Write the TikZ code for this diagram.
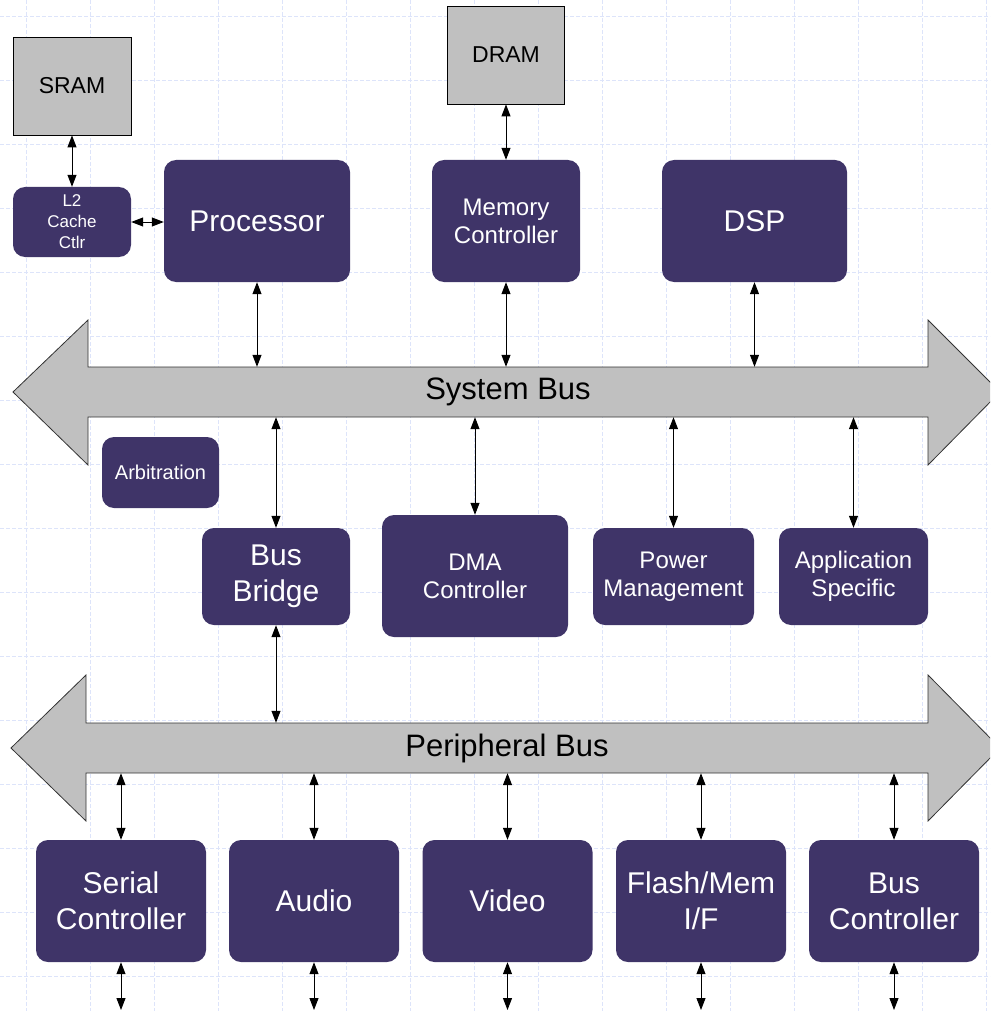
\documentclass[tikz,border=0pt]{standalone}
\usepackage{fontspec}
\setmainfont{Liberation Sans}
\usetikzlibrary{arrows.meta,positioning,calc}
\definecolor{socpurple}{HTML}{3F3468}
\definecolor{busgray}{HTML}{C0C0C0}
\definecolor{gridblue}{HTML}{DDE4FA}
\tikzset{
  blockbox/.style={fill=socpurple, rounded corners=12pt, text=white,
                   align=center, inner sep=0pt},
  membox/.style={draw=black, line width=0.8pt, fill=busgray, inner sep=0pt,
                 text=black, font=\fontsize{23}{27}\selectfont},
  busshape/.style={draw=black!80, line width=0.8pt, fill=busgray},
  buslabel/.style={inner sep=0pt, text=black, font=\fontsize{31}{36}\selectfont},
  bigtext/.style={font=\fontsize{30}{36}\selectfont},
  midtext/.style={font=\fontsize{24}{28}\selectfont},
  link/.style={{Triangle[length=12pt,width=9pt]}-{Triangle[length=12pt,width=9pt]},
               line width=1pt},
  gridline/.style={gridblue, line width=0.9pt, dash pattern=on 4pt off 2pt}}
\begin{document}
\begin{tikzpicture}[x=1pt, y=-1pt]
  \useasboundingbox (0,0) rectangle (990,1011);
  \clip (0,0) rectangle (990,1011);
  \foreach \gx in {26,90,...,986} \draw[gridline] (\gx,0) -- (\gx,1011);
  \foreach \gy in {16,80,...,976} \draw[gridline] (0,\gy) -- (990,\gy);

  \draw[busshape] (13,392) -- (88,320) -- (88,367) -- (928,367) -- (928,320)
    -- (1000,392) -- (928,465) -- (928,417) -- (88,417) -- (88,465) -- cycle;
  \draw[busshape] (11,748) -- (86,675) -- (86,723) -- (928,723) -- (928,675)
    -- (1000,748) -- (928,821) -- (928,773) -- (86,773) -- (86,821) -- cycle;
  \node[buslabel, minimum width=840, minimum height=50] (sysbus) at (508,392) {System Bus};
  \node[buslabel, minimum width=842, minimum height=50] (perbus) at (507,748) {Peripheral Bus};

  \node[membox, minimum width=118, minimum height=98] (sram) at (72,86) {SRAM};
  \node[membox, minimum width=117, minimum height=98] (dram) at (506,55) {DRAM};
  \node[blockbox, font=\fontsize{17}{21}\selectfont, minimum width=118, minimum height=70]
    (ltwo) at (72,222) {L2\\Cache\\Ctlr};
  \node[blockbox, bigtext, minimum width=186, minimum height=122] (proc) at (257,221) {Processor};
  \node[blockbox, midtext, minimum width=148, minimum height=122] (memctl) at (506,221)
    {Memory\\Controller};
  \node[blockbox, bigtext, minimum width=185, minimum height=122] (dsp) at (754.5,221) {DSP};

  \node[blockbox, font=\fontsize{20}{24}\selectfont, minimum width=117, minimum height=71]
    (arb) at (160.5,472.5) {Arbitration};
  \node[blockbox, bigtext, minimum width=148, minimum height=97] (bridge) at (276,576.5)
    {Bus\\Bridge};
  \node[blockbox, midtext, minimum width=186, minimum height=122] (dma) at (475,576)
    {DMA\\Controller};
  \node[blockbox, midtext, minimum width=161, minimum height=97] (power) at (673.5,576.5)
    {Power\\Management};
  \node[blockbox, midtext, minimum width=149, minimum height=97] (app) at (853.5,576.5)
    {Application\\Specific};

  \node[blockbox, bigtext, minimum width=170, minimum height=122] (serial) at (121,901)
    {Serial\\Controller};
  \node[blockbox, bigtext, minimum width=170, minimum height=122] (audio) at (314,901) {Audio};
  \node[blockbox, bigtext, minimum width=170, minimum height=122] (video) at (507.5,901) {Video};
  \node[blockbox, bigtext, minimum width=170, minimum height=122] (flash) at (701,901)
    {Flash/Mem\\I/F};
  \node[blockbox, bigtext, minimum width=170, minimum height=122] (busctl) at (894,901)
    {Bus\\Controller};
  \coordinate (edge) at (0,1010);

  \draw[link] (sram.south) -- (ltwo.north);
  \draw[link] (ltwo.east) -- (ltwo.east -| proc.west);
  \draw[link] (dram.south) -- (memctl.north);
  \foreach \n in {proc,memctl,dsp}
    \draw[link] (\n.south) -- (\n.south |- sysbus.north);
  \foreach \n in {bridge,dma,power,app}
    \draw[link] (\n.north |- sysbus.south) -- (\n.north);
  \draw[link] (bridge.south) -- (bridge.south |- perbus.north);
  \foreach \n in {serial,audio,video,flash,busctl} {
    \draw[link] (\n.north |- perbus.south) -- (\n.north);
    \draw[link] (\n.south) -- (\n.south |- edge);
  }
\end{tikzpicture}
\end{document}
